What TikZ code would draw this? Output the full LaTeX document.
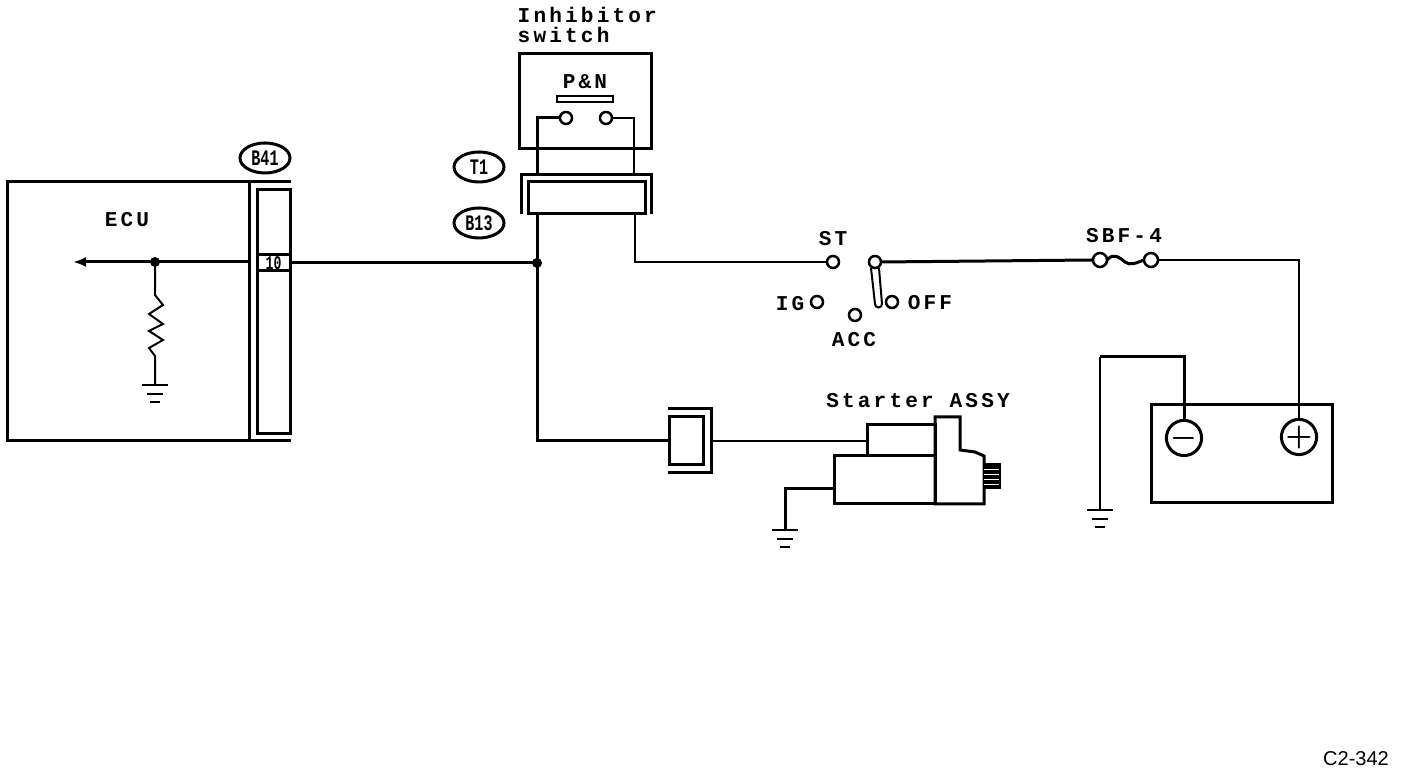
\documentclass[tikz,border=0pt]{standalone}
\usepackage{fontspec}
\setmainfont{Liberation Sans}
\newfontfamily\schemfont[LetterSpace=15]{Liberation Mono}
\newfontfamily\plugfont[FakeStretch=0.68]{Liberation Mono}
\usetikzlibrary{calc, positioning, shapes.geometric, arrows.meta}
\tikzset{
	wire/.style={line width=0.02cm},
	thickwire/.style={line width=0.03cm},
	box/.style={shape=rectangle, draw, line width=0.03cm, inner sep=0, outer sep=0, fill=white},
	term/.style={shape=circle, draw, line width=0.025cm, inner sep=0, outer sep=0, minimum size=0.12cm, fill=white},
	batterm/.style={shape=circle, draw, line width=0.03cm, inner sep=0, outer sep=0, minimum size=0.34cm, font=\fontsize{8}{9}\selectfont\boldmath},
	plug/.style={shape=ellipse, draw, line width=0.03cm, inner sep=0, outer sep=0, minimum width=0.5cm, minimum height=0.3cm, font=\plugfont\bfseries\fontsize{6.3}{7}\selectfont},
	lbl/.style={draw=none, fill=none, inner sep=0, font=\schemfont\bfseries\fontsize{6}{5.7}\selectfont},
	joint/.style={shape=circle, fill=black, inner sep=0, minimum size=0.1cm},
	gnd/.pic={
		\draw[wire] (-0.13,0) -- (0.13,0);
		\draw[wire] (-0.08,-0.09) -- (0.08,-0.09);
		\draw[wire] (-0.05,-0.17) -- (0.05,-0.17);
	}
}
\begin{document}
\begin{tikzpicture}[]
		\useasboundingbox (0,0) rectangle (14.08,-7.72);

		% ECU
		\coordinate (ecutl) at (0.07,-1.82);
		\coordinate (ecutr) at (2.91,-1.82);
		\coordinate (ecubl) at (0.07,-4.41);
		\coordinate (ecubr) at (2.91,-4.41);
		\coordinate (divt) at (2.49,-1.82);
		\coordinate (divb) at (2.49,-4.41);
		\coordinate (divm) at (2.49,-2.62);
		\draw[thickwire] (ecutr) -- (ecutl) -- (ecubl) -- (ecubr);
		\draw[thickwire] (divt) -- (divb);
		\node[box, fill=none, minimum width=0.33cm, minimum height=2.44cm, anchor=north west] (conn) at (2.57,-1.90) {};
		\node[box, minimum width=0.33cm, minimum height=0.16cm] (pin) at (2.735,-2.63) {\plugfont\bfseries\fontsize{5.5}{6}\selectfont 10};
		\node[plug] (b41) at (2.65,-1.58) {B41};
		\node[lbl] (ecutxt) at (1.27,-2.20) {ECU};
		\node[joint] (ecuj) at (1.55,-2.62) {};
		\coordinate (ecuout) at (0.73,-2.62);
		\coordinate (r1) at (1.55,-2.95);
		\coordinate (r2) at (1.55,-3.85);
		\draw[thickwire, -{Latex[length=0.13cm, width=0.1cm]}] (divm) -- (ecuj.center) -- (ecuout);
		\draw[wire] (ecuj.center) -- (r1) -- ++(0.08,-0.10) -- ++(-0.14,-0.09) -- ++(0.14,-0.10) -- ++(-0.14,-0.07) -- ++(0.14,-0.09) -- ++(-0.14,-0.08) -- ++(0.06,-0.08) -- (r2);
		\pic at (r2) {gnd};

		% Inhibitor switch
		\node[lbl, align=left, anchor=north west] (inhtxt) at (5.17,-0.07) {Inhibitor\\switch};
		\node[box, minimum width=1.32cm, minimum height=0.95cm, anchor=north west] (inh) at (5.19,-0.54) {};
		\node[lbl] (pn) at (5.85,-0.82) {P\&N};
		\node[box, line width=0.02cm, minimum width=0.56cm, minimum height=0.06cm] (bar) at (5.85,-0.995) {};
		\node[term] (inhl) at (5.66,-1.18) {};
		\node[term] (inhr) at (6.06,-1.18) {};
		\coordinate (brnw) at (5.21,-1.75);
		\coordinate (brne) at (6.51,-1.75);
		\node[box, minimum width=1.17cm, minimum height=0.32cm, anchor=north west] (c13) at (5.28,-1.82) {};
		\node[plug] (t1) at (4.79,-1.67) {T1};
		\node[plug] (b13) at (4.79,-2.23) {B13};
		\draw[thickwire] (brnw |- c13.south) -- (brnw) -- (brne) -- (brne |- c13.south);
		\draw[thickwire] (inhl.west) -| (brnw -| 5.37,0);
		\draw[wire] (inhr.east) -| (brne -| 6.34,0);

		% main line
		\node[joint] (j1) at (5.37,-2.63) {};
		\node[term] (st) at (8.33,-2.62) {};
		\draw[thickwire] (pin.east) -- (j1.center);
		\draw[wire] (c13.south -| 6.35,0) |- (st.west);
		\node[lbl] (sttxt) at (8.33,-2.39) {ST};

		% ignition switch
		\node[term] (arm) at (8.75,-2.62) {};
		\node[term] (ig) at (8.17,-3.02) {};
		\node[term] (acc) at (8.55,-3.15) {};
		\node[term] (off) at (8.92,-3.02) {};
		\node[lbl] (igtxt) at (7.90,-3.04) {IG};
		\node[lbl] (acctxt) at (8.54,-3.40) {ACC};
		\node[lbl] (offtxt) at (9.30,-3.03) {OFF};
		\draw[wire] ([xshift=-0.04cm]arm.south) -- ++(0.04,-0.36) arc[start angle=180, end angle=360, radius=0.035] -- ([xshift=0.04cm]arm.south);

		% fuse
		\node[term, minimum size=0.14cm] (fl) at (11.00,-2.60) {};
		\node[term, minimum size=0.14cm] (fr) at (11.51,-2.60) {};
		\node[lbl] (sbf) at (11.24,-2.36) {SBF-4};
		\draw[thickwire] (arm.east) -- (fl.west);
		\draw[thickwire] (fl.east) .. controls (11.14,-2.52) and (11.20,-2.58) .. (11.25,-2.62) .. controls (11.30,-2.66) and (11.36,-2.63) .. (fr.west);

		% Battery
		\node[box, minimum width=1.81cm, minimum height=0.98cm, anchor=north west] (batt) at (11.51,-4.05) {};
		\node[batterm] (neg) at (11.84,-4.38) {$-$};
		\node[batterm] (pos) at (12.99,-4.37) {$+$};
		\coordinate (gndb) at (11.00,-5.10);
		\coordinate (negup) at (11.84,-3.57);
		\draw[wire] (fr.east) -| (pos.north);
		\draw[thickwire] (neg.north) -- (negup) -- (negup -| gndb);
		\draw[wire] (negup -| gndb) -- (gndb);
		\pic at (gndb) {gnd};

		% Starter
		\node[lbl] (startxt) at (9.18,-4.01) {Starter ASSY};
		\node[box, minimum width=0.34cm, minimum height=0.48cm, anchor=north west] (c2) at (6.69,-4.17) {};
		\coordinate (c2tl) at (6.68,-4.09);
		\coordinate (c2bl) at (6.68,-4.73);
		\coordinate (c2tr) at (7.11,-4.09);
		\coordinate (c2br) at (7.11,-4.73);
		\draw[thickwire] (c2tl) -- (c2tr) -- (c2br) -- (c2bl);
		\node[box, minimum width=0.68cm, minimum height=0.31cm, anchor=north west] (sol) at (8.67,-4.25) {};
		\node[box, minimum width=1.01cm, minimum height=0.48cm, anchor=north west] (motor) at (8.34,-4.56) {};
		\coordinate (hw) at (9.35,-4.17);
		\draw[thickwire] (hw) -- ++(0.25,0) -- ++(0,-0.33) -- ++(0.15,-0.02) -- ++(0.09,-0.04) -- ++(0,-0.48) -- (motor.south east) -- cycle;
		\node[shape=rectangle, fill=black, inner sep=0, minimum width=0.18cm, minimum height=0.26cm] (gear) at (9.92,-4.76) {};
		\foreach \i in {-0.08,-0.03,0.02,0.07}
			\draw[white, line width=0.008cm] ([yshift=\i cm, xshift=0.02cm]gear.west) -- ([yshift=\i cm, xshift=-0.03cm]gear.east);
		\coordinate (gnds) at (7.85,-5.30);
		\draw[thickwire] (c13.south -| j1) -- (j1.center) |- (c2.west);
		\draw[line width=0.025cm] (c2br |- c2.west) -- (c2.west -| sol.west);
		\draw[thickwire] (motor.west |- 0,-4.89) -| (gnds);
		\pic at (gnds) {gnd};

		% drawing number
		\node[draw=none, fill=none, inner sep=0, font=\fontsize{5.7}{7}\selectfont] (num) at (13.56,-7.59) {C2-342};
	\end{tikzpicture}
\end{document}
